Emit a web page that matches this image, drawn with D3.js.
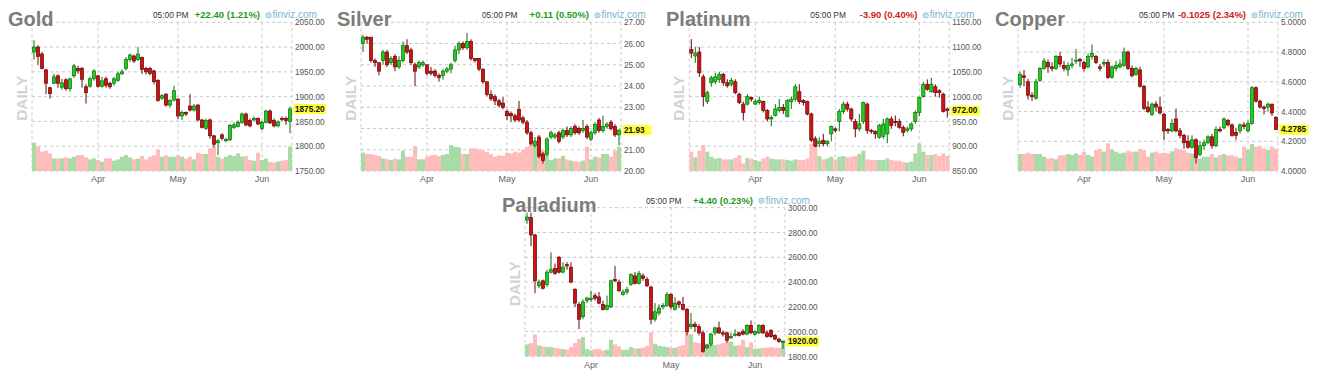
<!DOCTYPE html>
<html><head><meta charset="utf-8">
<script src="https://cdn.jsdelivr.net/npm/d3@7"></script>
<style>
html,body{margin:0;padding:0;background:#fff;}
svg{display:block;font-family:"Liberation Sans",Arial,sans-serif;}
</style></head><body>
<svg id="c" width="1322" height="382"></svg>
<script>
// ---------- categories ----------
const dates = ["2022-03-10","2022-03-11","2022-03-14","2022-03-15","2022-03-16","2022-03-17","2022-03-18","2022-03-21","2022-03-22","2022-03-23","2022-03-24","2022-03-25","2022-03-28","2022-03-29","2022-03-30","2022-03-31",
"2022-04-01","2022-04-04","2022-04-05","2022-04-06","2022-04-07","2022-04-08","2022-04-11","2022-04-12","2022-04-13","2022-04-14","2022-04-18","2022-04-19","2022-04-20","2022-04-21","2022-04-22","2022-04-25","2022-04-26","2022-04-27","2022-04-28","2022-04-29",
"2022-05-02","2022-05-03","2022-05-04","2022-05-05","2022-05-06","2022-05-09","2022-05-10","2022-05-11","2022-05-12","2022-05-13","2022-05-16","2022-05-17","2022-05-18","2022-05-19","2022-05-20","2022-05-23","2022-05-24","2022-05-25","2022-05-26","2022-05-27","2022-05-31",
"2022-06-01","2022-06-02","2022-06-03","2022-06-06","2022-06-07","2022-06-08","2022-06-09","2022-06-10"];
const monthTickDates = ["2022-04-01","2022-05-02","2022-06-01"];
const monthTickLabels = ["Apr","May","Jun"];

const panelNames = ["Gold","Silver","Platinum","Copper","Palladium"];
const changeValues = [22.40, 0.11, -3.90, -0.1025, 4.40];
const changePercents = [1.21, 0.50, 0.40, 2.34, 0.23];
const timeLabel = "05:00 PM";

// ---------- Gold ----------
const goldOpen = [1990,2000,1986,1954,1918,1927,1942,1919,1934,1916,1942,1957,1957,1920,1921,1936,1942,1921,1936,1927,1927,1933,1946,1957,1975,1982,1975,1979,1957,1957,1952,1933,1897,1905,1883,1893,1895,1861,1868,1881,1873,1883,1853,1836,1853,1821,1807,1823,1811,1813,1838,1840,1848,1865,1852,1853,1856,1836,1848,1871,1852,1841,1856,1856,1850];
const goldClose = [2000,1981,1957,1927,1906,1940,1927,1928,1916,1936,1962,1952,1935,1908,1936,1952,1921,1932,1923,1920,1936,1946,1950,1975,1984,1972,1986,1955,1950,1947,1930,1892,1902,1883,1892,1912,1861,1868,1865,1873,1881,1853,1838,1852,1821,1804,1811,1816,1814,1842,1843,1848,1865,1843,1841,1856,1845,1848,1871,1847,1841,1849,1854,1852,1875.2];
const goldHigh = [2014,2004,1990,1956,1920,1946,1945,1936,1937,1938,1966,1962,1960,1925,1940,1955,1944,1940,1940,1930,1940,1950,1955,1980,1987,1985,2000,1981,1960,1960,1954,1935,1905,1907,1895,1922,1897,1872,1870,1905,1885,1885,1855,1856,1856,1823,1815,1826,1817,1845,1848,1852,1868,1868,1856,1860,1858,1851,1873,1874,1856,1852,1860,1860,1880];
const goldLow = [1975,1964,1955,1905,1896,1925,1918,1914,1912,1910,1938,1946,1918,1886,1918,1932,1918,1918,1918,1916,1922,1930,1944,1953,1970,1968,1972,1946,1945,1943,1925,1890,1893,1880,1878,1890,1855,1853,1861,1870,1870,1850,1836,1833,1815,1798,1782,1812,1808,1810,1835,1838,1845,1840,1838,1850,1842,1832,1846,1845,1838,1838,1850,1843,1826];
const goldVolume = [85,73,58,61,53,38,38,38,41,38,43,48,48,41,35,38,33,28,38,38,31,35,43,48,41,35,37,45,35,43,47,65,43,47,43,43,47,43,37,43,35,55,51,51,68,73,43,37,43,48,45,53,43,45,33,31,55,33,37,27,25,29,31,33,73];
const goldTicks = [1750,1800,1850,1900,1950,2000,2050];

// ---------- Silver ----------
const silverOpen = [26.0,26.3,26.3,25.2,25.1,25.2,25.6,25.1,25.4,24.9,25.2,25.9,25.7,25.0,24.9,25.0,25.0,24.7,24.7,24.5,24.5,24.7,24.8,25.2,25.7,26.0,25.8,26.1,25.3,25.3,24.8,24.2,23.6,23.5,23.3,23.2,22.8,22.7,22.6,22.9,22.5,22.3,21.8,21.2,21.6,20.8,20.8,21.6,21.6,21.8,21.6,21.9,21.7,22.1,22.0,21.9,22.1,21.5,21.8,22.4,21.9,22.1,22.3,22.1,21.7];
const silverClose = [26.3,26.2,25.2,25.1,24.7,25.6,25.0,25.3,24.9,25.2,25.9,25.6,25.1,24.7,25.1,25.1,24.6,24.6,24.5,24.4,24.7,24.8,25.0,25.7,26.0,25.8,26.1,25.3,25.2,24.8,24.2,23.6,23.4,23.3,23.1,23.0,22.6,22.6,22.4,22.4,22.3,21.8,21.3,21.4,20.7,20.5,21.5,21.8,21.7,21.4,21.9,21.7,22.0,21.8,21.8,22.0,21.6,21.8,22.2,21.9,22.1,22.2,22.0,21.7,21.93];
const silverHigh = [26.4,26.35,26.3,25.3,25.1,25.7,25.7,25.4,25.5,25.4,26.1,26.2,25.8,25.1,25.2,25.2,25.0,24.9,24.8,24.6,24.8,24.9,25.1,25.9,26.1,26.1,26.5,26.2,25.3,25.3,24.8,24.2,23.8,23.6,23.4,23.5,22.9,22.8,22.7,23.3,22.6,22.4,21.9,21.6,21.7,20.9,21.6,21.9,21.8,21.9,22.0,22.1,22.1,22.2,22.1,22.4,22.2,21.9,22.3,22.5,22.6,22.3,22.4,22.2,21.95];
const silverLow = [25.6,26.0,25.1,24.9,24.5,25.0,24.9,25.0,24.7,24.8,25.1,25.5,25.0,24.0,24.8,24.9,24.5,24.5,24.4,24.2,24.3,24.6,24.6,25.1,25.5,25.7,25.7,25.2,25.1,24.7,24.1,23.5,23.3,23.1,23.0,22.9,22.4,22.3,22.3,22.3,22.2,21.7,21.2,21.1,20.6,20.35,20.7,21.5,21.5,21.3,21.5,21.6,21.6,21.7,21.7,21.8,21.5,21.4,21.7,21.8,21.8,22.0,21.9,21.6,21.2];
const silverVolume = [55,51,51,48,45,38,35,33,37,35,61,43,43,75,35,35,43,47,49,45,48,51,78,73,71,51,51,68,68,65,61,57,51,43,47,45,55,53,58,55,63,73,83,78,98,61,51,33,38,38,45,35,31,29,27,31,73,35,43,41,51,51,43,61,73];
const silverTicks = [20,21,22,23,24,25,26,27];

// ---------- Platinum ----------
const platinumOpen = [1095,1082,1090,1040,990,1028,1030,1035,1045,1028,1025,1030,1005,985,985,998,985,988,990,972,955,962,972,978,960,990,995,1010,992,990,965,915,905,912,905,925,935,950,970,985,975,950,935,950,985,932,930,918,920,925,955,950,950,938,932,935,950,968,1000,1025,1010,1020,1012,1005,975];
const platinumClose = [1088,1088,1048,1000,1008,1038,1040,1045,1028,1022,1033,1008,988,968,1000,995,990,992,972,955,958,975,978,972,992,995,1020,990,988,965,912,900,910,905,910,940,932,970,985,975,955,935,945,988,932,930,925,942,945,955,942,948,938,928,935,945,968,998,1025,1015,1025,1008,1008,970,972];
const platinumHigh = [1116,1100,1100,1045,1012,1042,1048,1050,1048,1035,1038,1035,1008,990,1005,1000,995,1000,992,975,962,985,995,985,995,1000,1025,1025,995,992,968,920,918,925,912,942,938,975,990,990,978,955,965,990,988,935,932,945,955,958,960,962,955,942,940,948,972,1000,1030,1035,1038,1025,1015,1008,978];
const platinumLow = [1078,1068,1040,980,985,1020,1025,1028,1022,1018,1020,1005,985,952,982,990,983,984,968,950,940,960,968,965,958,975,990,985,982,962,908,898,898,900,900,910,928,930,965,970,950,918,930,945,925,925,915,915,915,906,935,940,935,920,928,930,945,960,998,1012,1008,1000,998,968,958];
const platinumVolume = [58,41,61,78,58,43,37,39,35,35,35,39,47,23,39,37,33,29,37,43,37,35,35,35,33,31,35,33,33,37,81,73,45,35,37,43,35,43,45,41,43,45,51,61,35,33,33,33,33,38,33,31,31,27,25,28,53,83,58,48,48,51,45,53,45];
const platinumTicks = [850,900,950,1000,1050,1100,1150];

// ---------- Copper ----------
const copperOpen = [4.58,4.64,4.60,4.51,4.49,4.61,4.69,4.73,4.70,4.69,4.77,4.71,4.68,4.71,4.74,4.75,4.73,4.70,4.77,4.77,4.70,4.72,4.73,4.63,4.69,4.70,4.71,4.80,4.69,4.65,4.68,4.57,4.43,4.38,4.45,4.43,4.38,4.28,4.27,4.35,4.27,4.24,4.20,4.16,4.21,4.11,4.17,4.19,4.23,4.17,4.28,4.29,4.34,4.31,4.26,4.27,4.31,4.27,4.32,4.56,4.47,4.43,4.43,4.45,4.36];
const copperClose = [4.65,4.63,4.51,4.50,4.60,4.69,4.74,4.70,4.69,4.77,4.72,4.69,4.71,4.72,4.745,4.74,4.69,4.77,4.79,4.73,4.69,4.73,4.63,4.70,4.71,4.72,4.80,4.69,4.64,4.69,4.57,4.42,4.40,4.45,4.43,4.39,4.27,4.27,4.32,4.27,4.24,4.19,4.16,4.21,4.09,4.17,4.19,4.23,4.17,4.28,4.27,4.35,4.31,4.24,4.24,4.31,4.30,4.32,4.56,4.47,4.43,4.42,4.45,4.39,4.2785];
const copperHigh = [4.67,4.68,4.62,4.53,4.62,4.70,4.76,4.75,4.73,4.78,4.80,4.74,4.73,4.76,4.82,4.76,4.74,4.79,4.85,4.78,4.72,4.75,4.75,4.71,4.74,4.75,4.83,4.81,4.71,4.70,4.70,4.58,4.47,4.46,4.47,4.50,4.39,4.29,4.35,4.42,4.29,4.25,4.24,4.24,4.22,4.20,4.21,4.24,4.25,4.30,4.30,4.36,4.35,4.32,4.29,4.32,4.33,4.34,4.57,4.57,4.48,4.44,4.46,4.45,4.37];
const copperLow = [4.56,4.57,4.48,4.47,4.48,4.60,4.68,4.66,4.67,4.68,4.70,4.67,4.64,4.69,4.72,4.70,4.67,4.69,4.75,4.72,4.67,4.70,4.62,4.62,4.67,4.69,4.70,4.68,4.63,4.64,4.56,4.41,4.39,4.37,4.40,4.38,4.21,4.25,4.26,4.26,4.22,4.15,4.15,4.15,4.05,4.10,4.14,4.18,4.15,4.16,4.26,4.28,4.30,4.23,4.21,4.25,4.28,4.26,4.31,4.46,4.42,4.38,4.40,4.37,4.275];
const copperVolume = [51,51,55,51,51,51,43,37,39,35,47,47,51,48,53,48,58,48,43,63,66,58,83,65,58,53,55,61,58,58,66,63,43,55,58,53,55,53,59,68,65,63,55,53,58,38,43,43,51,41,48,51,47,47,43,39,73,65,81,73,75,68,63,73,67];
const copperTicks = [4.0,4.2,4.4,4.6,4.8,5.0];

// ---------- Palladium ----------
const palladiumOpen = [2900,2920,2780,2370,2410,2380,2480,2510,2600,2480,2540,2520,2340,2220,2120,2250,2260,2290,2280,2220,2180,2200,2420,2400,2300,2320,2380,2450,2390,2450,2420,2360,2100,2150,2200,2210,2300,2180,2240,2220,2180,2040,2060,2040,1990,1870,1900,1990,2030,1990,1990,1950,1970,1990,2000,1980,2050,1980,1990,2050,1990,2010,1970,1940,1915];
const palladiumClose = [2925,2780,2410,2400,2350,2480,2500,2470,2480,2520,2530,2400,2230,2100,2240,2270,2270,2270,2230,2180,2210,2410,2410,2330,2320,2340,2460,2390,2470,2430,2370,2100,2160,2190,2210,2300,2200,2230,2220,2180,2000,2060,2040,1990,1840,1890,1980,2030,1990,1980,1930,1960,1980,1970,1980,2050,1990,2000,2050,1990,1960,1960,1940,1920,1920];
const palladiumHigh = [2960,2960,2790,2420,2420,2500,2640,2550,2610,2560,2560,2560,2350,2240,2260,2280,2330,2310,2320,2250,2290,2420,2530,2420,2340,2360,2470,2480,2490,2470,2440,2370,2230,2220,2230,2320,2310,2280,2250,2280,2190,2150,2080,2060,2010,1900,1990,2040,2080,2010,2000,1990,2020,2000,2020,2060,2090,2010,2060,2060,2010,2020,1980,1950,1925];
const palladiumLow = [2870,2690,2310,2350,2340,2360,2470,2460,2470,2470,2500,2390,2200,2020,2100,2230,2240,2250,2220,2170,2170,2190,2400,2320,2290,2300,2370,2380,2380,2410,2360,2060,2080,2130,2180,2200,2180,2170,2190,2170,1970,2020,2000,1970,1830,1860,1880,1970,1980,1960,1910,1940,1960,1960,1970,1970,1980,1970,1980,1980,1950,1950,1930,1910,1860];
const palladiumVolume = [36,40,66,33,30,28,28,26,24,22,20,28,40,52,58,22,18,22,22,18,20,50,36,30,20,20,28,24,24,26,32,72,38,32,30,28,26,26,30,34,78,66,42,40,44,38,40,34,36,40,44,44,32,34,50,28,42,22,24,26,26,28,26,26,50];
const palladiumTicks = [1800,2000,2200,2400,2600,2800,3000];

// ---------- layout ----------
const svg = d3.select("#c");
const fmt2 = d3.format(".2f"), fmt4 = d3.format(".4f");
const panels = [
  {O:goldOpen,H:goldHigh,L:goldLow,C:goldClose,V:goldVolume,ticks:goldTicks,fmt:fmt2,left:32,top:22.3,titleX:8},
  {O:silverOpen,H:silverHigh,L:silverLow,C:silverClose,V:silverVolume,ticks:silverTicks,fmt:fmt2,left:361,top:22.3,titleX:337},
  {O:platinumOpen,H:platinumHigh,L:platinumLow,C:platinumClose,V:platinumVolume,ticks:platinumTicks,fmt:fmt2,left:689.3,top:22.3,titleX:666},
  {O:copperOpen,H:copperHigh,L:copperLow,C:copperClose,V:copperVolume,ticks:copperTicks,fmt:fmt4,left:1018,top:22.3,titleX:995},
  {O:palladiumOpen,H:palladiumHigh,L:palladiumLow,C:palladiumClose,V:palladiumVolume,ticks:palladiumTicks,fmt:fmt2,left:525,top:207.7,titleX:502}
];
const W = 260, Hh = 148.7;
const GRID = "#c8c8c8";
const UPF = "#22cc22", UPS = "#0f6e0f", DNF = "#cc1414", DNS = "#660808";
const VUP = "#a9dba6", VDN = "#ffbcbc";

panels.forEach((p, pi) => {
  const g = svg.append("g");
  const L = p.left, R = p.left + W, T = p.top, B = p.top + Hh;
  const x = d3.scaleBand().domain(dates).range([L, R]).padding(0);
  const bw = x.bandwidth();
  const ext = d3.extent(p.ticks);
  const y = d3.scaleLinear().domain(ext).range([B, T]);
  const yv = d3.scaleLinear().domain([0, 100]).range([B, B - 33.3]);

  g.selectAll("line.hg").data(p.ticks).join("line")
    .attr("x1", L).attr("x2", R).attr("y1", d => y(d)).attr("y2", d => y(d))
    .attr("stroke", GRID).attr("stroke-width", 1).attr("stroke-dasharray", "3,3");
  const vx = [L, R].concat(monthTickDates.map(d => x(d) + bw / 2));
  g.selectAll("line.vg").data(vx).join("line")
    .attr("x1", d => d).attr("x2", d => d).attr("y1", T).attr("y2", B)
    .attr("stroke", GRID).attr("stroke-width", 1).attr("stroke-dasharray", "3,3");

  const idx = d3.range(dates.length);
  g.selectAll("rect.v").data(idx).join("rect")
    .attr("x", i => x(dates[i])).attr("width", bw + 0.05)
    .attr("y", i => yv(p.V[i])).attr("height", i => B - yv(p.V[i]))
    .attr("fill", i => p.C[i] >= p.O[i] ? VUP : VDN);

  const cg = g.append("g");
  idx.forEach(i => {
    const up = p.C[i] >= p.O[i];
    const cx = x(dates[i]) + bw / 2;
    cg.append("line").attr("x1", cx).attr("x2", cx)
      .attr("y1", y(p.H[i])).attr("y2", y(p.L[i]))
      .attr("stroke", up ? UPS : DNS).attr("stroke-width", 1);
    const y1 = y(Math.max(p.O[i], p.C[i])), y2 = y(Math.min(p.O[i], p.C[i]));
    cg.append("rect").attr("x", cx - 1.6).attr("width", 3.2)
      .attr("y", y1).attr("height", Math.max(1, y2 - y1))
      .attr("fill", up ? UPF : DNF).attr("stroke", up ? UPS : DNS).attr("stroke-width", 0.7);
  });

  const ax = d3.axisRight(y).tickValues(p.ticks).tickFormat(p.fmt).tickSize(0).tickPadding(3);
  const axg = g.append("g").attr("transform", `translate(${R},0)`).call(ax);
  axg.select(".domain").remove();
  axg.selectAll("text").attr("font-size", 8.2).attr("fill", "#555").attr("font-family", "'Liberation Sans',Arial,sans-serif");

  const mx = d3.axisBottom(x).tickValues(monthTickDates)
    .tickFormat(d => monthTickLabels[monthTickDates.indexOf(d)]).tickSize(0).tickPadding(5);
  const mg = g.append("g").attr("transform", `translate(0,${B})`).call(mx);
  mg.select(".domain").remove();
  mg.selectAll("text").attr("font-size", 9).attr("fill", "#666").attr("font-family", "'Liberation Sans',Arial,sans-serif");

  const last = p.C[p.C.length - 1];
  const lt = g.append("text").attr("x", R + 3).attr("y", y(last)).attr("dy", "0.34em")
    .attr("font-size", 8.2).attr("font-weight", "bold").attr("fill", "#111").text(p.fmt(last));
  const tw = lt.node().getComputedTextLength();
  g.insert("rect", () => lt.node()).attr("x", R + 1.5).attr("y", y(last) - 5)
    .attr("width", Math.max(tw + 3, 29)).attr("height", 10).attr("fill", "#ffff3a");

  g.append("text").attr("transform", `translate(${L - 11},${T + 76}) rotate(-90)`)
    .attr("text-anchor", "middle").attr("dominant-baseline", "central")
    .attr("font-size", 15.5).attr("font-weight", "bold").attr("fill", "#d3d3d3").text("DAILY");

  g.append("text").attr("x", p.titleX).attr("y", T + 4).attr("font-size", 20).attr("font-weight", "bold")
    .attr("fill", "#7c7c7c").text(panelNames[pi]);
  g.append("text").attr("x", L + 121).attr("y", T - 4).attr("font-size", 8.3).attr("fill", "#333").text(timeLabel);
  const cv = changeValues[pi];
  const dec = pi === 3 ? 4 : 2;
  const ctext = (cv >= 0 ? "+" : "-") + Math.abs(cv).toFixed(dec) + " (" + changePercents[pi].toFixed(2) + "%)";
  g.append("text").attr("x", R - 32).attr("y", T - 4).attr("text-anchor", "end")
    .attr("font-size", 9.5).attr("font-weight", "bold").attr("fill", cv >= 0 ? "#1f9a1f" : "#cc2020").text(ctext);
  const fc = "#7db3d2";
  g.append("circle").attr("cx", R - 23.5).attr("cy", T - 7).attr("r", 2.6).attr("fill", "none").attr("stroke", fc).attr("stroke-width", 0.9);
  g.append("line").attr("x1", R - 25).attr("x2", R - 22).attr("y1", T - 7.7).attr("y2", T - 7.7).attr("stroke", fc).attr("stroke-width", 0.7);
  g.append("line").attr("x1", R - 25).attr("x2", R - 22).attr("y1", T - 6.3).attr("y2", T - 6.3).attr("stroke", fc).attr("stroke-width", 0.7);
  g.append("text").attr("x", R - 19.5).attr("y", T - 4).attr("font-size", 10).attr("fill", fc).text("finviz.com");
});
</script>
</body></html>
